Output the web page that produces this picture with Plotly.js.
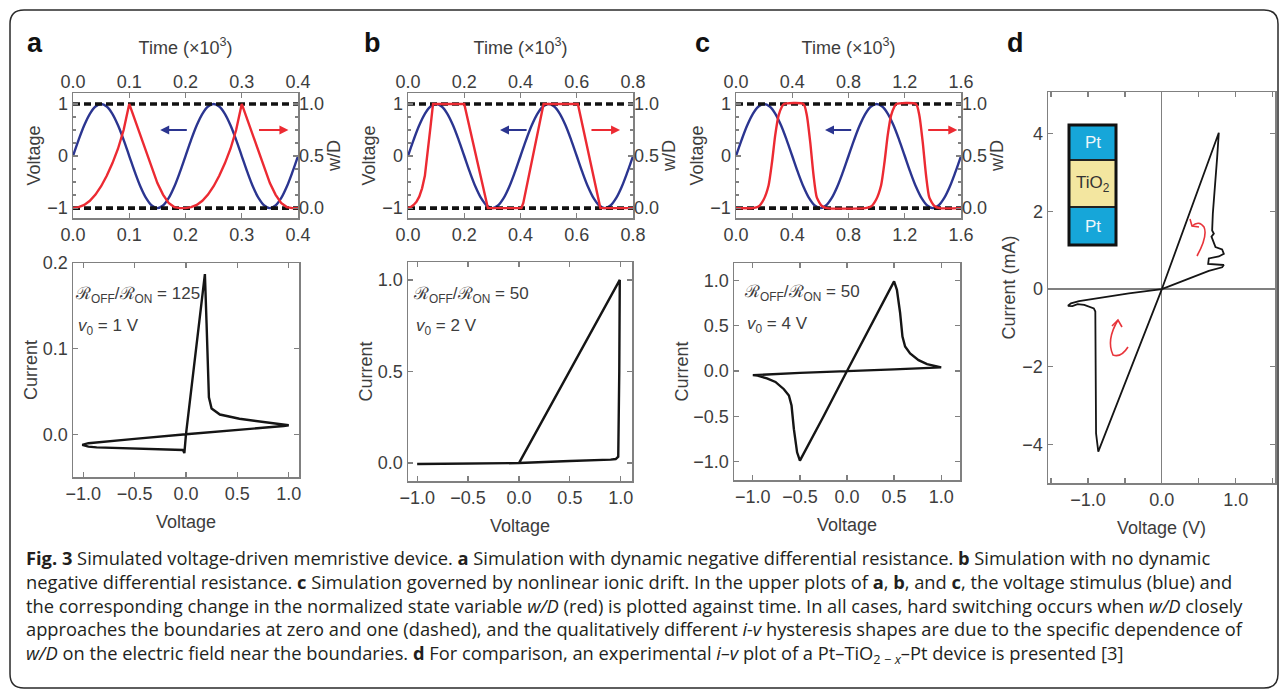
<!DOCTYPE html>
<html>
<head>
<meta charset="utf-8">
<script src="https://cdn.plot.ly/plotly-3.0.1.min.js"></script>
<style>html,body{margin:0;padding:0;background:#fff;}#chart{width:1281px;height:693px;}</style>
</head>
<body>
<div id="chart"></div>
<script>
// ---------------- DATA ----------------
// Upper plots: time axes (x10^3) for panels a, b, c
const timeA = [0,0.01,0.02,0.03,0.04,0.05,0.06,0.07,0.08,0.09,0.10,0.11,0.12,0.13,0.14,0.15,0.16,0.17,0.18,0.19,0.20,0.21,0.22,0.23,0.24,0.25,0.26,0.27,0.28,0.29,0.30,0.31,0.32,0.33,0.34,0.35,0.36,0.37,0.38,0.39,0.40];
const timeB = [0,0.02,0.04,0.06,0.08,0.10,0.12,0.14,0.16,0.18,0.20,0.22,0.24,0.26,0.28,0.30,0.32,0.34,0.36,0.38,0.40,0.42,0.44,0.46,0.48,0.50,0.52,0.54,0.56,0.58,0.60,0.62,0.64,0.66,0.68,0.70,0.72,0.74,0.76,0.78,0.80];
const timeC = [0,0.04,0.08,0.12,0.16,0.20,0.24,0.28,0.32,0.36,0.40,0.44,0.48,0.52,0.56,0.60,0.64,0.68,0.72,0.76,0.80,0.84,0.88,0.92,0.96,1.00,1.04,1.08,1.12,1.16,1.20,1.24,1.28,1.32,1.36,1.40,1.44,1.48,1.52,1.56,1.60];
// Voltage stimulus (blue), same two-period wave in all three upper plots
const voltageStimulus = [0,0.31,0.59,0.81,0.95,1,0.95,0.81,0.59,0.31,0,-0.31,-0.59,-0.81,-0.95,-1,-0.95,-0.81,-0.59,-0.31,0,0.31,0.59,0.81,0.95,1,0.95,0.81,0.59,0.31,0,-0.31,-0.59,-0.81,-0.95,-1,-0.95,-0.81,-0.59,-0.31,0];
// Normalized state variable w/D (red)
const stateTimeA = timeA;
const stateA = [0,0.01,0.03,0.07,0.13,0.21,0.31,0.43,0.57,0.75,1,0.85,0.69,0.53,0.38,0.24,0.13,0.05,0.01,0,0,0.01,0.03,0.07,0.13,0.21,0.31,0.43,0.57,0.75,1,0.85,0.69,0.53,0.38,0.24,0.13,0.05,0.01,0,0];
const stateTimeB = [0,0.01,0.02,0.03,0.04,0.05,0.06,0.07,0.08,0.089,0.20,0.284,0.403,0.41,0.482,0.604,0.684,0.80];
const stateB = [0,0.01,0.03,0.06,0.11,0.19,0.31,0.52,0.78,1,1,0,0,0.05,1,1,0,0];
const stateTimeC = [0,0.12,0.16,0.196,0.232,0.256,0.279,0.303,0.327,0.34,0.48,0.504,0.528,0.551,0.575,0.611,0.646,0.92,0.96,0.996,1.032,1.056,1.079,1.103,1.127,1.14,1.28,1.304,1.328,1.351,1.375,1.411,1.446,1.60];
const stateC = [0,0,0.015,0.08,0.22,0.44,0.70,0.89,0.975,1,1,0.89,0.63,0.32,0.10,0.02,0,0,0.015,0.08,0.22,0.44,0.70,0.89,0.975,1,1,0.89,0.63,0.32,0.10,0.02,0,0];
// Boundaries of w/D (dashed)
const boundaryLevels = [0, 1];

// Lower plots: i-v curves
const ivVoltageA = [0,0.09,0.184,0.2,0.207,0.215,0.223,0.249,0.33,0.52,0.78,0.95,1.0,0.95,0.5,0,-0.5,-0.95,-1.01,-0.95,-0.87,-0.51,-0.19,-0.03,-0.016,-0.01,0];
const ivCurrentA = [0,0.093,0.187,0.13,0.109,0.07,0.043,0.030,0.023,0.018,0.014,0.012,0.0105,0.0095,0.0052,0,-0.0055,-0.0105,-0.0125,-0.0145,-0.0154,-0.0166,-0.0178,-0.0185,-0.022,-0.015,0];
const ivVoltageB = [0,0.5,0.99,0.985,0.98,0.975,0.95,0.9,0.5,0.1,0,-0.5,-1.0,-0.5,0];
const ivCurrentB = [0,0.505,1.0,0.5,0.06,0.035,0.022,0.019,0.011,0.003,0,-0.003,-0.005,-0.002,0];
const ivVoltageC = [0,0.25,0.5,0.53,0.564,0.589,0.617,0.67,0.76,0.85,0.95,1.0,0.5,0,-0.5,-1.0,-0.95,-0.85,-0.76,-0.67,-0.617,-0.589,-0.564,-0.53,-0.5,-0.25,0];
const ivCurrentC = [0,0.5,0.987,0.895,0.64,0.38,0.27,0.195,0.12,0.077,0.048,0.04,0.018,0,-0.02,-0.045,-0.05,-0.08,-0.12,-0.2,-0.27,-0.38,-0.64,-0.895,-0.987,-0.5,0];
// Panel d: experimental Pt-TiO2-x-Pt device (V, mA)
const ivVoltageD = [0,0.385,0.77,0.748,0.716,0.689,0.68,0.703,0.671,0.725,0.815,0.838,0.77,0.635,0.626,0.77,0.838,0.815,0.635,0.365,0,-0.446,-0.85,-1.12,-1.23,-1.27,-1.21,-1.14,-1.05,-0.99,-0.92,-0.90,-0.895,-0.89,-0.86,-0.43,0];
const ivCurrentD = [0,2.0,4.03,3.40,2.63,1.94,1.51,1.43,1.35,1.08,1.02,0.91,0.84,0.79,0.65,0.64,0.62,0.56,0.47,0.27,0,-0.11,-0.22,-0.31,-0.37,-0.43,-0.44,-0.39,-0.41,-0.46,-0.50,-0.58,-2.0,-3.72,-4.19,-2.1,0];

// Tick values / labels
const timeTicksA = [0,0.1,0.2,0.3,0.4];
const timeTicksB = [0,0.2,0.4,0.6,0.8];
const timeTicksC = [0,0.4,0.8,1.2,1.6];
const voltageTicks = [-1,0,1];
const stateTicks = [0,0.5,1];
const ivVoltageTicks = [-1,-0.5,0,0.5,1];
const currentTicksA = [0,0.1,0.2];
const currentTicksB = [0,0.5,1];
const currentTicksC = [-1,-0.5,0,0.5,1];
const expVoltageTicks = [-1,0,1];
const expCurrentTicks = [-4,-2,0,2,4];
const resistanceRatios = ['125','50','50'];
const amplitudes = ['1','2','4'];

// ---------------- LAYOUT HELPERS ----------------
const W = 1281, H = 693;
const SANS = '"Liberation Sans", Arial, sans-serif';
const TXT = '#3d3d3d';
const FRAME = '#808080';
const BLUE = '#2b3590';
const RED = '#ec2a32';
const px = (x) => x / W;
const py = (y) => 1 - y / H;
const domX = (a, b) => [a / W, b / W];
const domY = (top, bottom) => [1 - bottom / H, 1 - top / H];
const tickFont = {family: SANS, size: 18, color: TXT};
const titleFont = {family: SANS, size: 18, color: TXT};

function frame(extra) {
  return Object.assign({
    showline: true, linecolor: FRAME, linewidth: 1.5, mirror: 'ticks',
    ticks: 'inside', ticklen: 5, tickwidth: 1.2, tickcolor: FRAME,
    showgrid: false, zeroline: false, tickfont: tickFont, fixedrange: true
  }, extra);
}
const key = (id) => (id[0] === 'x' ? 'xaxis' : 'yaxis') + id.slice(1);

const traces = [];
const layout = {
  width: W, height: H, margin: {l: 0, r: 0, t: 0, b: 0},
  paper_bgcolor: '#ffffff', plot_bgcolor: '#ffffff', showlegend: false,
  font: {family: SANS, color: TXT},
  annotations: [], shapes: []
};

// ---------------- UPPER PLOTS ----------------
const uppers = [
  {xb: 'x', xt: 'x2', yl: 'y', yr: 'y2', dom: [73, 298], time: timeA, st: stateTimeA, s: stateA, ticks: timeTicksA, arrows: [[0.205, 0.155], [0.328, 0.383]], letter: 'a', lx: 35},
  {xb: 'x4', xt: 'x5', yl: 'y4', yr: 'y5', dom: [408, 633], time: timeB, st: stateTimeB, s: stateB, ticks: timeTicksB, arrows: [[0.427, 0.327], [0.647, 0.754]], letter: 'b', lx: 372},
  {xb: 'x7', xt: 'x8', yl: 'y7', yr: 'y8', dom: [736, 961], time: timeC, st: stateTimeC, s: stateC, ticks: timeTicksC, arrows: [[0.83, 0.633], [1.356, 1.574]], letter: 'c', lx: 702}
];
const vRange = [-1.19, 1.21];
const sRange = [(vRange[0] + 1) / 2, (vRange[1] + 1) / 2];

uppers.forEach((p) => {
  const tMin = p.time[0], tMax = p.time[p.time.length - 1];
  layout[key(p.xb)] = frame({domain: domX(p.dom[0], p.dom[1]), anchor: p.yl, range: [tMin, tMax], tickvals: p.ticks, tickformat: '.1f'});
  layout[key(p.xt)] = {overlaying: p.xb, side: 'top', anchor: p.yr, range: [tMin, tMax], tickvals: p.ticks, tickformat: '.1f',
    ticks: '', showline: false, showgrid: false, zeroline: false, tickfont: tickFont, fixedrange: true,
    title: {text: 'Time (×10<sup>3</sup>)', font: titleFont, standoff: 13}};
  layout[key(p.yl)] = frame({domain: domY(93, 218), anchor: p.xb, range: vRange, tickvals: voltageTicks,
    minor: {dtick: 0.25, ticks: 'inside', ticklen: 3, tickcolor: FRAME},
    title: {text: 'Voltage', font: titleFont, standoff: 2}});
  layout[key(p.yr)] = {overlaying: p.yl, side: 'right', anchor: p.xt, range: sRange, tickvals: stateTicks, tickformat: '.1f',
    ticks: '', showline: false, showgrid: false, zeroline: false, tickfont: tickFont, fixedrange: true,
    title: {text: 'w/D', font: titleFont, standoff: 2}};

  traces.push({x: p.time, y: voltageStimulus, xaxis: p.xb, yaxis: p.yl, type: 'scatter', mode: 'lines',
    line: {color: BLUE, width: 2.4, shape: 'spline', smoothing: 1}, name: 'voltage'});
  boundaryLevels.forEach((lv) => {
    traces.push({x: [tMin, tMax], y: [lv, lv], xaxis: p.xt, yaxis: p.yr, type: 'scatter', mode: 'lines',
      line: {color: '#111111', width: 3.6, dash: '7px,4px'}, name: 'boundary'});
  });
  traces.push({x: p.st, y: p.s, xaxis: p.xt, yaxis: p.yr, type: 'scatter', mode: 'lines',
    line: {color: RED, width: 2.4, shape: p.letter === 'c' ? 'spline' : 'linear', smoothing: 0.6}, name: 'w/D'});

  // direction arrows
  const arrowColors = [BLUE, RED];
  p.arrows.forEach((a, i) => {
    layout.annotations.push({xref: p.xb, yref: p.yl, axref: p.xb, ayref: p.yl, x: a[1], y: 0.5, ax: a[0], ay: 0.5,
      text: '', showarrow: true, arrowhead: 2, arrowsize: 1, arrowwidth: 1.8, arrowcolor: arrowColors[i]});
  });
  layout.annotations.push({xref: 'paper', yref: 'paper', x: px(p.lx), y: py(43), text: '<b>' + p.letter + '</b>', showarrow: false,
    font: {family: SANS, size: 27, color: '#111'}, xanchor: 'center', yanchor: 'middle'});
});

// ---------------- LOWER PLOTS ----------------
const lowers = [
  {x: 'x3', y: 'y3', dom: [73, 299], top: 263, bottom: 477, xr: [-1.1, 1.1], yr: [-0.05, 0.2], yt: currentTicksA, v: ivVoltageA, c: ivCurrentA, tx: 73, ty: 295},
  {x: 'x6', y: 'y6', dom: [408, 632], top: 262, bottom: 481, xr: [-1.09, 1.11], yr: [-0.098, 1.098], yt: currentTicksB, v: ivVoltageB, c: ivCurrentB, tx: 411, ty: 295},
  {x: 'x9', y: 'y9', dom: [734, 960], top: 263, bottom: 480, xr: [-1.2, 1.2], yr: [-1.2, 1.19], yt: currentTicksC, v: ivVoltageC, c: ivCurrentC, tx: 742, ty: 293}
];
lowers.forEach((p, i) => {
  layout[key(p.x)] = frame({domain: domX(p.dom[0], p.dom[1]), anchor: p.y, range: p.xr, tickvals: ivVoltageTicks, tickformat: '.1f',
    title: {text: 'Voltage', font: titleFont, standoff: 12}});
  layout[key(p.y)] = frame({domain: domY(p.top, p.bottom), anchor: p.x, range: p.yr, tickvals: p.yt, tickformat: '.1f',
    title: {text: 'Current', font: titleFont, standoff: 0}});
  traces.push({x: p.v, y: p.c, xaxis: p.x, yaxis: p.y, type: 'scatter', mode: 'lines',
    line: {color: '#151515', width: 2.4}, name: 'i-v'});
  layout.annotations.push({xref: 'paper', yref: 'paper', x: px(p.tx), y: py(p.ty), xanchor: 'left', yanchor: 'middle', showarrow: false,
    text: 'ℛ<sub>OFF</sub>/ℛ<sub>ON</sub> = ' + resistanceRatios[i], font: {family: SANS, size: 17, color: TXT}});
  layout.annotations.push({xref: 'paper', yref: 'paper', x: px(p.tx + 3), y: py(p.ty + 32), xanchor: 'left', yanchor: 'middle', showarrow: false,
    text: '<i>v</i><sub>0</sub> = ' + amplitudes[i] + ' V', font: {family: SANS, size: 17, color: TXT}});
});

// ---------------- PANEL d ----------------
layout.xaxis10 = frame({domain: domX(1048, 1275), anchor: 'y10', range: [-1.54, 1.53], tickvals: expVoltageTicks, tickformat: '.1f',
  minor: {dtick: 0.5, tick0: 0, ticks: 'inside', ticklen: 5, tickcolor: FRAME},
  zeroline: true, zerolinecolor: FRAME, zerolinewidth: 1.2,
  title: {text: 'Voltage (V)', font: titleFont, standoff: 12}});
layout.yaxis10 = frame({domain: domY(92, 483), anchor: 'x10', range: [-5.0, 5.08], tickvals: expCurrentTicks,
  zeroline: true, zerolinecolor: FRAME, zerolinewidth: 1.2,
  title: {text: 'Current (mA)', font: titleFont, standoff: 2}});
traces.push({x: ivVoltageD, y: ivCurrentD, xaxis: 'x10', yaxis: 'y10', type: 'scatter', mode: 'lines',
  line: {color: '#151515', width: 1.8}, name: 'experiment'});
layout.annotations.push({xref: 'paper', yref: 'paper', x: px(1015), y: py(43), text: '<b>d</b>', showarrow: false,
  font: {family: SANS, size: 27, color: '#111'}, xanchor: 'center', yanchor: 'middle'});

// Inset: Pt / TiO2 / Pt stack
const rectPx = (x0, y0, x1, y1, fill, lw, lc) => ({type: 'rect', xref: 'paper', yref: 'paper', x0: px(x0), x1: px(x1), y0: py(y1), y1: py(y0),
  fillcolor: fill, line: {width: lw, color: lc}});
layout.shapes.push(rectPx(1069, 125, 1116, 160, '#16a6d9', 0, '#000'));
layout.shapes.push(rectPx(1069, 160, 1116, 207, '#f3e6a0', 0, '#000'));
layout.shapes.push(rectPx(1069, 207, 1116, 245, '#16a6d9', 0, '#000'));
layout.shapes.push({type: 'line', xref: 'paper', yref: 'paper', x0: px(1069), x1: px(1116), y0: py(160), y1: py(160), line: {color: '#222', width: 2}});
layout.shapes.push({type: 'line', xref: 'paper', yref: 'paper', x0: px(1069), x1: px(1116), y0: py(207), y1: py(207), line: {color: '#222', width: 2}});
layout.shapes.push(rectPx(1069, 125, 1116, 245, 'rgba(0,0,0,0)', 3, '#111'));
[['Pt', 143, '#eef6fa'], ['TiO<sub>2</sub>', 184, '#333'], ['Pt', 226, '#eef6fa']].forEach((t) => {
  layout.annotations.push({xref: 'paper', yref: 'paper', x: px(1092.5), y: py(t[1]), text: t[0], showarrow: false,
    font: {family: SANS, size: 17, color: t[2]}, xanchor: 'center', yanchor: 'middle'});
});

// Hand-drawn red direction arrows in panel d
const P = (x, y) => px(x).toFixed(5) + ',' + py(y).toFixed(5);
const redPen = {color: '#e8343a', width: 1.6};
layout.shapes.push({type: 'path', xref: 'paper', yref: 'paper', line: redPen,
  path: 'M' + P(1197, 256) + ' Q' + P(1208, 236) + ' ' + P(1204, 227) + ' Q' + P(1199, 220) + ' ' + P(1192, 226)});
layout.shapes.push({type: 'path', xref: 'paper', yref: 'paper', line: redPen,
  path: 'M' + P(1190, 219) + ' L' + P(1192, 226) + ' L' + P(1199, 227)});
layout.shapes.push({type: 'path', xref: 'paper', yref: 'paper', line: redPen,
  path: 'M' + P(1128, 347) + ' Q' + P(1121, 358) + ' ' + P(1113, 355) + ' Q' + P(1106, 340) + ' ' + P(1118, 320)});
layout.shapes.push({type: 'path', xref: 'paper', yref: 'paper', line: redPen,
  path: 'M' + P(1112, 326) + ' L' + P(1118, 320) + ' L' + P(1122, 327)});

// Outer rounded border
const r = 14, bx0 = 10, by0 = 10, bx1 = 1278, by1 = 688;
layout.shapes.push({type: 'path', xref: 'paper', yref: 'paper', line: {color: '#2a2a2a', width: 1.5},
  path: 'M' + P(bx0 + r, by0) + ' L' + P(bx1 - r, by0) + ' Q' + P(bx1, by0) + ' ' + P(bx1, by0 + r) +
    ' L' + P(bx1, by1 - r) + ' Q' + P(bx1, by1) + ' ' + P(bx1 - r, by1) + ' L' + P(bx0 + r, by1) +
    ' Q' + P(bx0, by1) + ' ' + P(bx0, by1 - r) + ' L' + P(bx0, by0 + r) + ' Q' + P(bx0, by0) + ' ' + P(bx0 + r, by0) + ' Z'});

// Caption (one multi-line text block)
const captionLines = [
  '<b>Fig. 3</b> Simulated voltage-driven memristive device. <b>a</b> Simulation with dynamic negative differential resistance. <b>b</b> Simulation with no dynamic',
  'negative differential resistance. <b>c</b> Simulation governed by nonlinear ionic drift. In the upper plots of <b>a</b>, <b>b</b>, and <b>c</b>, the voltage stimulus (blue) and',
  'the corresponding change in the normalized state variable <i>w/D</i> (red) is plotted against time. In all cases, hard switching occurs when <i>w/D</i> closely',
  'approaches the boundaries at zero and one (dashed), and the qualitatively different <i>i-v</i> hysteresis shapes are due to the specific dependence of',
  '<i>w/D</i> on the electric field near the boundaries. <b>d</b> For comparison, an experimental <i>i–v</i> plot of a Pt–TiO<sub>2 − <i>x</i></sub>–Pt device is presented [3]'
];
layout.annotations.push({xref: 'paper', yref: 'paper', x: px(24), y: py(543), xanchor: 'left', yanchor: 'top', align: 'left', showarrow: false,
  text: captionLines.join('<br>'), font: {family: '"Open Sans", "Noto Sans", sans-serif', size: 18.3, color: '#231f20'}});

Plotly.newPlot('chart', traces, layout, {staticPlot: true, displayModeBar: false});
</script>
</body>
</html>
